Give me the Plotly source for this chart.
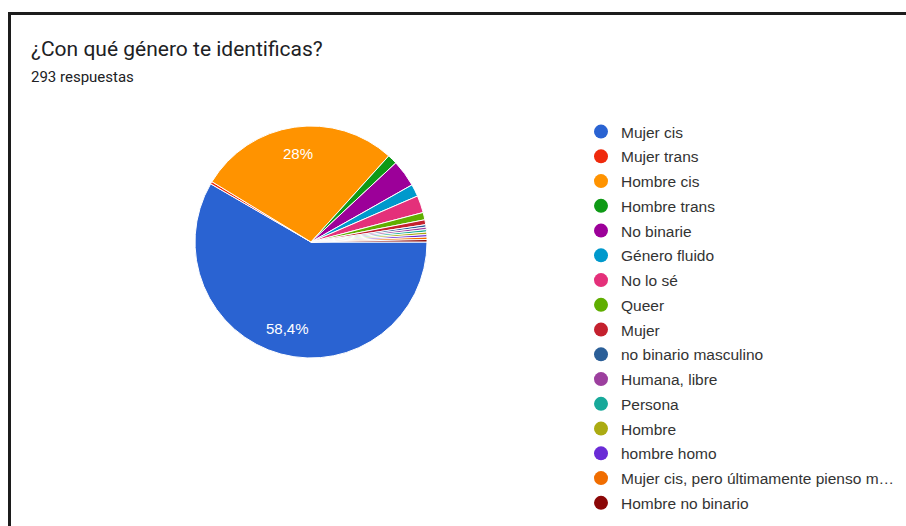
import math
import plotly.graph_objects as go

labels = ["Mujer cis", "Mujer trans", "Hombre cis", "Hombre trans", "No binarie",
          "Género fluido", "No lo sé", "Queer", "Mujer", "no binario masculino",
          "Humana, libre", "Persona", "Hombre", "hombre homo",
          "Mujer cis, pero últimamente pienso m…", "Hombre no binario"]
values = [171, 1, 82, 4, 11, 5, 7, 3, 2, 1, 1, 1, 1, 1, 1, 1]
colors = ["#2a63d2", "#ef2a0c", "#ff9300", "#0f9a16", "#9c0099", "#0099cc",
          "#e4307a", "#5fae00", "#c4212e", "#2b5f98", "#9c3f9e", "#17a99a",
          "#abab12", "#6a2bd6", "#f06d00", "#8b0707"]
title_text = "¿Con qué género te identificas?"
subtitle_text = "293 respuestas"

W, H = 906, 526
total = sum(values)
PIE_X = [195 / W, 427 / W]
PIE_Y = [1 - 358 / H, 1 - 126 / H]
START_DEG = 90  # first slice starts at 3 o'clock, clockwise


def pct_label(v):
    p = v / total * 100
    if p < 5:
        return ""
    s = f"{p:.1f}".rstrip("0").rstrip(".").replace(".", ",")
    return s + "%"


# slice labels placed along each labelled slice's mid-angle (derived from data)
cx_px = (PIE_X[0] + PIE_X[1]) / 2 * W
cy_px = (PIE_Y[0] + PIE_Y[1]) / 2 * H
r_px = (PIE_X[1] - PIE_X[0]) * W / 2
label_anns = []
cum = 0
for v in values:
    t = pct_label(v)
    if t:
        th = math.radians(START_DEG + 360 * (cum + v / 2) / total)
        x_px = cx_px + 0.77 * r_px * math.sin(th)
        y_px = cy_px + 0.77 * r_px * math.cos(th)
        label_anns.append(dict(
            text=t, x=x_px / W, y=y_px / H, xref="paper", yref="paper",
            xanchor="center", yanchor="middle", showarrow=False,
            font=dict(family="Liberation Sans, Arial", size=15, color="white")))
    cum += v

fig = go.Figure()
fig.add_trace(go.Pie(
    labels=labels, values=values, textinfo="none",
    sort=False, direction="clockwise", rotation=START_DEG,
    marker=dict(colors=colors, line=dict(color="white", width=1)),
    showlegend=False, hoverinfo="label+value+percent",
    domain=dict(x=PIE_X, y=PIE_Y),
))

for lab, col in zip(labels, colors):
    fig.add_trace(go.Scatter(
        x=[None], y=[None], mode="markers", name=lab, legendgroup=lab,
        marker=dict(color=col, size=14, symbol="circle"),
        showlegend=True, hoverinfo="skip",
    ))

fig.update_layout(
    width=W, height=H,
    margin=dict(l=0, r=0, t=0, b=0),
    paper_bgcolor="white", plot_bgcolor="white",
    font=dict(family="Roboto", color="#202124"),
    xaxis=dict(visible=False), yaxis=dict(visible=False),
    legend=dict(
        x=581 / W, y=1 - 115 / H, xanchor="left", yanchor="top",
        font=dict(family="Liberation Sans, Arial", size=15.5, color="#333333"),
        tracegroupgap=1.6, itemclick=False, bgcolor="rgba(0,0,0,0)",
    ),
    annotations=[
        dict(text=title_text, x=29 / W, y=1 - 35 / H, xref="paper", yref="paper",
             xanchor="left", yanchor="top", showarrow=False,
             font=dict(family="Roboto", size=21, color="#202124")),
        dict(text=subtitle_text, x=29 / W, y=1 - 66 / H, xref="paper", yref="paper",
             xanchor="left", yanchor="top", showarrow=False,
             font=dict(family="Roboto", size=15, color="#202124")),
    ] + label_anns,
    shapes=[
        dict(type="line", xref="paper", yref="paper",
             x0=9.5 / W, x1=9.5 / W, y0=0, y1=1 - 12 / H,
             line=dict(color="#1c1c1c", width=3)),
        dict(type="line", xref="paper", yref="paper",
             x0=8 / W, x1=1, y0=1 - 13.5 / H, y1=1 - 13.5 / H,
             line=dict(color="#1c1c1c", width=3)),
    ],
)

fig.write_html("out.html")
